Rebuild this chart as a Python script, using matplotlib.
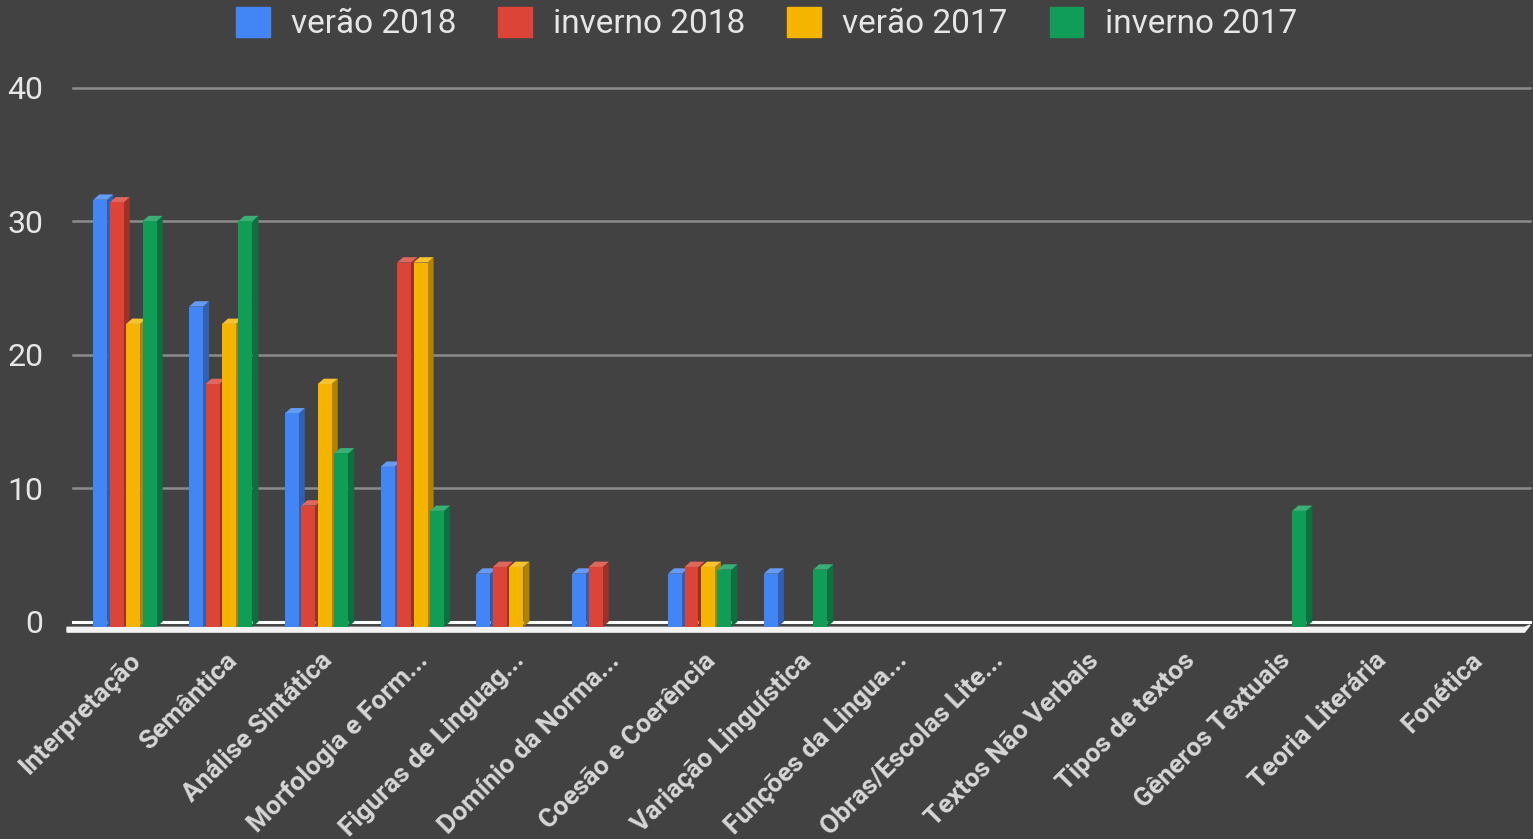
import numpy as np
import matplotlib.pyplot as plt
from matplotlib.patches import Polygon, Patch
from matplotlib.colors import to_rgb

# Dados: percentual de questões por assunto
categorias = ["Interpretação", "Semântica", "Análise Sintática", "Morfologia e Form...",
              "Figuras de Linguag...", "Domínio da Norma...", "Coesão e Coerência",
              "Variação Linguística", "Funções da Lingua...", "Obras/Escolas Lite...",
              "Textos Não Verbais", "Tipos de textos", "Gêneros Textuais",
              "Teoria Literária", "Fonética"]
series = ["verão 2018", "inverno 2018", "verão 2017", "inverno 2017"]
verao_2018 = [32, 24, 16, 12, 4, 4, 4, 4, 0, 0, 0, 0, 0, 0, 0]
inverno_2018 = [31.8, 18.2, 9.1, 27.3, 4.5, 4.5, 4.5, 0, 0, 0, 0, 0, 0, 0, 0]
verao_2017 = [22.7, 22.7, 18.2, 27.3, 4.5, 0, 4.5, 0, 0, 0, 0, 0, 0, 0, 0]
inverno_2017 = [30.4, 30.4, 13.0, 8.7, 0, 0, 4.3, 4.3, 0, 0, 0, 0, 8.7, 0, 0]
valores = [verao_2018, inverno_2018, verao_2017, inverno_2017]
cores = ["#4285F4", "#DB4437", "#F4B400", "#0F9D58"]
yticks = [0, 10, 20, 30, 40]

plt.rcParams['font.family'] = ['Roboto', 'DejaVu Sans']
fundo = "#424242"
texto = "#e6e6e6"

fig = plt.figure(figsize=(15.33, 8.39), dpi=100, facecolor=fundo)
ax = fig.add_axes([60 / 1533, (839 - 640) / 839, 1473 / 1533, 560 / 839])
ax.set_facecolor(fundo)
ax.set_xlim(-0.678, 14.698)
ax.set_ylim(-0.97, 40.97)

# profundidade do efeito 3D (em unidades dos eixos)
dx = 0.063
dy = 0.40
largura = 0.146
passo = 0.172


def ajusta(cor, f):
    r, g, b = to_rgb(cor)
    if f < 1:
        return (r * f, g * f, b * f)
    return (r + (1 - r) * (f - 1), g + (1 - g) * (f - 1), b + (1 - b) * (f - 1))


# grade na parede do fundo
for v in yticks[1:]:
    ax.plot([-0.542, 14.667], [v + dy, v + dy], color="#8c8c8c", lw=1.8, zorder=1)

# piso
ax.plot([-0.542, 14.667], [dy, dy], color="white", lw=2.2, zorder=1)
ax.add_patch(Polygon([(-0.605, -0.02), (14.61, -0.02), (14.667, 0.15), (14.61, -0.38), (-0.605, -0.38)],
                     closed=True, color="#f2f2f2", zorder=1))

x = np.arange(len(categorias))
z = 2
for i in range(len(categorias)):
    for s, (vals, cor) in enumerate(zip(valores, cores)):
        v = vals[i]
        if v <= 0:
            continue
        x0 = x[i] + (s - 1.5) * passo - largura / 2
        x1 = x0 + largura
        # lateral
        ax.add_patch(Polygon([(x1, 0), (x1 + dx, dy), (x1 + dx, v + dy), (x1, v)],
                             closed=True, color=ajusta(cor, 0.72), lw=0, zorder=z))
        # topo
        ax.add_patch(Polygon([(x0, v), (x1, v), (x1 + dx, v + dy), (x0 + dx, v + dy)],
                             closed=True, color=ajusta(cor, 1.18), lw=0, zorder=z))
        # frente
        ax.bar(x0, v, width=largura, align="edge", color=cor, lw=0, zorder=z + 0.5)
        z += 1

for sp in ax.spines.values():
    sp.set_visible(False)

ax.set_yticks([v + dy for v in yticks])
ax.set_yticklabels([str(v) for v in yticks], fontsize=23, color=texto)
ax.tick_params(axis="y", length=0, pad=12)
ax.set_xticks(x + 0.04)
ax.set_xticklabels(categorias, rotation=45, ha="right", rotation_mode="anchor",
                   fontsize=19, fontweight="bold", color="#d6d6d6")
ax.tick_params(axis="x", length=0, pad=6)

handles = [Patch(facecolor=c, edgecolor=c) for c in cores]
fig.legend(handles, series, loc="upper center", bbox_to_anchor=(0.5, 1.028), ncol=4,
           frameon=False, fontsize=24, labelcolor=texto, handlelength=1.0,
           handleheight=1.05, handletextpad=0.65, columnspacing=1.25)

fig.savefig("out.png", dpi=100, facecolor=fundo)
